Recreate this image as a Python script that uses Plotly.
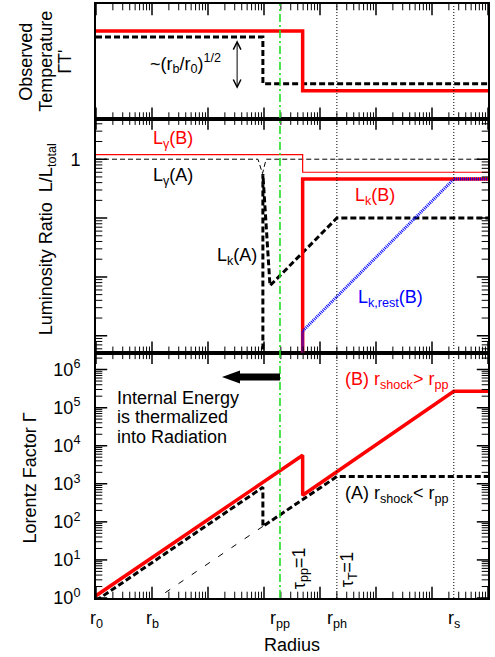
import math
import plotly.graph_objects as go

FONT = "Liberation Sans, Arial, sans-serif"
RED = "#ff0000"
BLUE = "#0000ff"
GREEN = "#22dd22"

# ---- characteristic radii (r0 = 1, arbitrary units) ----
R_LABELS = ["r<sub>0</sub>", "r<sub>b</sub>", "r<sub>pp</sub>", "r<sub>ph</sub>", "r<sub>s</sub>"]
R_MARKS = [1.0, 10.0, 1.93e3, 2.0e4, 2.45e6]
R_MAX = 1.0e7

# ---- observed temperature (arbitrary linear units) ----
temp_B_r = [1.0, 4.9e3, 4.9e3, 1.0e7]
temp_B = [0.765, 0.765, 0.243, 0.243]
temp_A_r = [1.0, 9.55e2, 9.55e2, 1.0e7]
temp_A = [0.713, 0.713, 0.304, 0.304]

# ---- luminosity ratios L/L_total ----
lgam_B_r = [1.0, 4.9e3, 4.9e3, 1.0e7]
lgam_B = [1.2, 1.2, 0.6, 0.6]
lgam_A_r = [1.0, 7.8e2, 9.4e2, 1.09e3, 1.0e7]
lgam_A = [1.0, 1.0, 0.57, 1.0, 1.0]
lk_B_r = [4.9e3, 4.9e3, 1.0e7]
lk_B = [1e-4, 0.46, 0.46]
lkrest_B_r = [4.9e3, 4.9e3, 2.45e6, 1.0e7]
lkrest_B = [1e-4, 1.2e-3, 0.46, 0.46]
lk_A_r = [9.55e2, 9.55e2, 1.28e3, 2.0e4, 1.0e7]
lk_A = [1e-4, 0.56, 7.1e-3, 0.1, 0.1]

# ---- Lorentz factor ----
gam_B_r = [1.0, 4.9e3, 4.9e3, 2.45e6, 1.0e7]
gam_B = [1.15, 5.6e3, 5.0e2, 2.7e5, 2.7e5]
gam_A_r = [1.0, 9.55e2, 9.55e2, 2.0e4, 1.0e7]
gam_A = [0.85, 8.1e2, 76.0, 1.55e3, 1.55e3]
gam_thin_r = [10.0, 9.55e2]
gam_thin = [0.8, 76.0]

GAMMA_TICKS = [10.0 ** k for k in range(7)]
GAMMA_TEXT = ["10<sup>%d</sup>" % k for k in range(7)]

X_LOG = [0.0, math.log10(R_MAX)]
Y1_LOG = [0.0, 6.44]      # Lorentz factor
Y2_LOG = [-3.29, 0.69]    # luminosity ratio
Y3_LIN = [0.0, 1.0]       # temperature

fig = go.Figure()


def line(x, y, xa, ya, color, width, dash="solid"):
    fig.add_trace(go.Scatter(x=x, y=y, xaxis=xa, yaxis=ya, mode="lines",
                             line=dict(color=color, width=width, dash=dash),
                             hoverinfo="skip", showlegend=False))


THICK_DASH = "6px,3px"
# top panel: temperature
line(temp_A_r, temp_A, "x3", "y3", "black", 3, THICK_DASH)
line(temp_B_r, temp_B, "x3", "y3", RED, 3.5)
# middle panel: luminosity ratios
line(lgam_A_r, lgam_A, "x2", "y2", "black", 1, "5px,3px")
line(lgam_B_r, lgam_B, "x2", "y2", RED, 1.2)
line(lk_A_r, lk_A, "x2", "y2", "black", 3, THICK_DASH)
line(lk_B_r, lk_B, "x2", "y2", RED, 3.5)
line(lkrest_B_r, lkrest_B, "x2", "y2", BLUE, 3, "1px,1px")
# bottom panel: Lorentz factor
line(gam_thin_r, gam_thin, "x", "y", "black", 1, "6px,10px")
line(gam_A_r, gam_A, "x", "y", "black", 3, THICK_DASH)
line(gam_B_r, gam_B, "x", "y", RED, 3.5)


# ---- tick marks on the inside of every frame edge ----
# Each tick is a line-shaped marker centred on the frame edge; the half that
# falls outside the plotting area is clipped away, leaving an inward tick.
def log_ticks(lo, hi):
    """Decade and sub-decade values inside the log10 range [lo, hi]."""
    major, minor = [], []
    for e in range(math.floor(lo) - 1, math.ceil(hi) + 1):
        for m in range(1, 10):
            v = m * 10.0 ** e
            if lo - 1e-9 <= math.log10(v) <= hi + 1e-9:
                (major if m == 1 else minor).append(v)
    return major, minor


def tick_marks(xs, ys, xa, ya, symbol, size, width):
    fig.add_trace(go.Scatter(x=xs, y=ys, xaxis=xa, yaxis=ya, mode="markers",
                             cliponaxis=True, hoverinfo="skip", showlegend=False,
                             marker=dict(symbol=symbol, size=size, color="black",
                                         line=dict(color="black", width=width))))


X_MAJ, X_MIN = log_ticks(*X_LOG)
SIZES = ((16, 1.5), (9, 1.0))   # (marker length px = 2 x tick length, width)
X_EDGES = [10.0 ** X_LOG[0], 10.0 ** X_LOG[1]]

for xa, ya, yrng, ylog in (("x", "y", Y1_LOG, True), ("x2", "y2", Y2_LOG, True),
                           ("x3", "y3", Y3_LIN, False)):
    y_edges = [10.0 ** t for t in yrng] if ylog else list(yrng)
    for vals, (size, w) in zip((X_MAJ, X_MIN), SIZES):
        tick_marks(vals * 2, [y_edges[0]] * len(vals) + [y_edges[1]] * len(vals),
                   xa, ya, "line-ns", size, w)
    if ylog:
        y_maj, y_min = log_ticks(*yrng)
        for vals, (size, w) in zip((y_maj, y_min), SIZES):
            tick_marks([X_EDGES[0]] * len(vals) + [X_EDGES[1]] * len(vals), vals * 2,
                       xa, ya, "line-ew", size, w)

x_common = dict(type="log", range=X_LOG, showline=True, linewidth=2, linecolor="black",
                mirror=True, ticks="", showticklabels=False, showgrid=False, zeroline=False)
y_common = dict(showline=True, linewidth=2, linecolor="black", mirror=True, ticks="",
                showgrid=False, zeroline=False, ticklabelstandoff=10,
                tickfont=dict(family=FONT, size=18, color="black"))

H = 596.0
PLOT_W = 392.0
fig.update_layout(
    width=495, height=657,
    margin=dict(l=96, r=7, t=2, b=59),
    paper_bgcolor="white", plot_bgcolor="white",
    font=dict(family=FONT, size=18, color="black"),
    xaxis=dict(x_common, anchor="y", domain=[0, 1]),
    xaxis2=dict(x_common, anchor="y2", matches="x", domain=[0, 1]),
    xaxis3=dict(x_common, anchor="y3", matches="x", domain=[0, 1]),
    yaxis=dict(y_common, type="log", range=Y1_LOG, domain=[0, 246 / H],
               tickmode="array", tickvals=GAMMA_TICKS, ticktext=GAMMA_TEXT),
    yaxis2=dict(y_common, type="log", range=Y2_LOG, domain=[246 / H, 481 / H],
                tickmode="array", tickvals=[1.0], ticktext=["1"]),
    yaxis3=dict(y_common, showticklabels=False, range=Y3_LIN, domain=[481 / H, 1]),
)

# vertical markers: r_pp (dash-dot), r_ph and r_s (dotted)
fig.add_shape(type="line", xref="x", yref="paper", x0=R_MARKS[2], x1=R_MARKS[2], y0=0, y1=1,
              line=dict(color=GREEN, width=1.6, dash="8px,3px,2px,3px"))
for r in (R_MARKS[3], R_MARKS[4]):
    fig.add_shape(type="line", xref="x", yref="paper", x0=r, x1=r, y0=0, y1=1,
                  line=dict(color="black", width=1, dash="1px,2px"))

# thick arrow pointing inward from r_pp
fig.add_shape(type="path", xref="x", yref="y", xsizemode="pixel", ysizemode="pixel",
              xanchor=R_MARKS[2], yanchor=6.4e5,
              path="M0,-3.5 L-40,-3.5 L-40,-6.5 L-58,0 L-40,6.5 L-40,3.5 L0,3.5 Z",
              fillcolor="black", line=dict(color="black", width=0))

ann = []


def text(x, y, s, xref, yref, color="black", size=18, **kw):
    d = dict(x=x, y=y, xref=xref, yref=yref, text=s, showarrow=False,
             xanchor="center", yanchor="middle",
             font=dict(family=FONT, size=size, color=color))
    d.update(kw)
    ann.append(d)


# radius labels under the bottom axis
for r, lab in zip(R_MARKS, R_LABELS):
    text(math.log10(r), -22 / H, lab, "x", "paper")
text(0.5, -47 / H, "Radius", "paper", "paper")

# axis titles
text(-70 / PLOT_W, 1 - 58 / H, "Observed", "paper", "paper", textangle=-90)
text(-50 / PLOT_W, 1 - 58 / H, "Temperature", "paper", "paper", textangle=-90)
text(-31 / PLOT_W, 1 - 58 / H, "\u0393T'", "paper", "paper", textangle=-90)
text(-49 / PLOT_W, 1 - 236 / H, "Luminosity Ratio&nbsp;&nbsp;L/L<sub>total</sub>", "paper",
     "paper", textangle=-90)
text(-66 / PLOT_W, 1 - 476 / H, "Lorentz Factor \u0393", "paper", "paper", textangle=-90)

# top panel
text(1.59, 0.478, "~(r<sub>b</sub>/r<sub>0</sub>)<sup>1/2</sup>", "x3", "y3")
ann.append(dict(x=2.52, y=0.26, ax=2.52, ay=0.696, xref="x3", yref="y3", axref="x3",
                ayref="y3", text="", showarrow=True, arrowside="end+start",
                arrowhead=5, startarrowhead=5, arrowsize=1.5, startarrowsize=1.5,
                arrowwidth=1, arrowcolor="black"))

# middle panel
text(1.375, 0.34, "L<sub>\u03b3</sub>(B)", "x2", "y2", RED)
text(1.375, -0.29, "L<sub>\u03b3</sub>(A)", "x2", "y2")
text(4.98, -0.63, "L<sub>k</sub>(B)", "x2", "y2", RED)
text(2.52, -1.66, "L<sub>k</sub>(A)", "x2", "y2")
text(5.25, -2.36, "L<sub>k,rest</sub>(B)", "x2", "y2", BLUE)

# bottom panel
for i, s in enumerate(["Internal Energy", "is thermalized", "into Radiation"]):
    text(0.34, 5.26 - i * 0.51, s, "x", "y", xanchor="left")
text(5.36, 5.71, "(B) r<sub>shock</sub>&gt; r<sub>pp</sub>", "x", "y", RED)
text(5.36, 2.72, "(A) r<sub>shock</sub>&lt; r<sub>pp</sub>", "x", "y")
text(3.64, 0.78, "\u03c4<sub>pp</sub>=1", "x", "y", textangle=-90)
text(4.5, 0.73, "\u03c4<sub>T</sub>=1", "x", "y", textangle=-90)

fig.update_layout(annotations=ann)
fig.write_html("out.html")
